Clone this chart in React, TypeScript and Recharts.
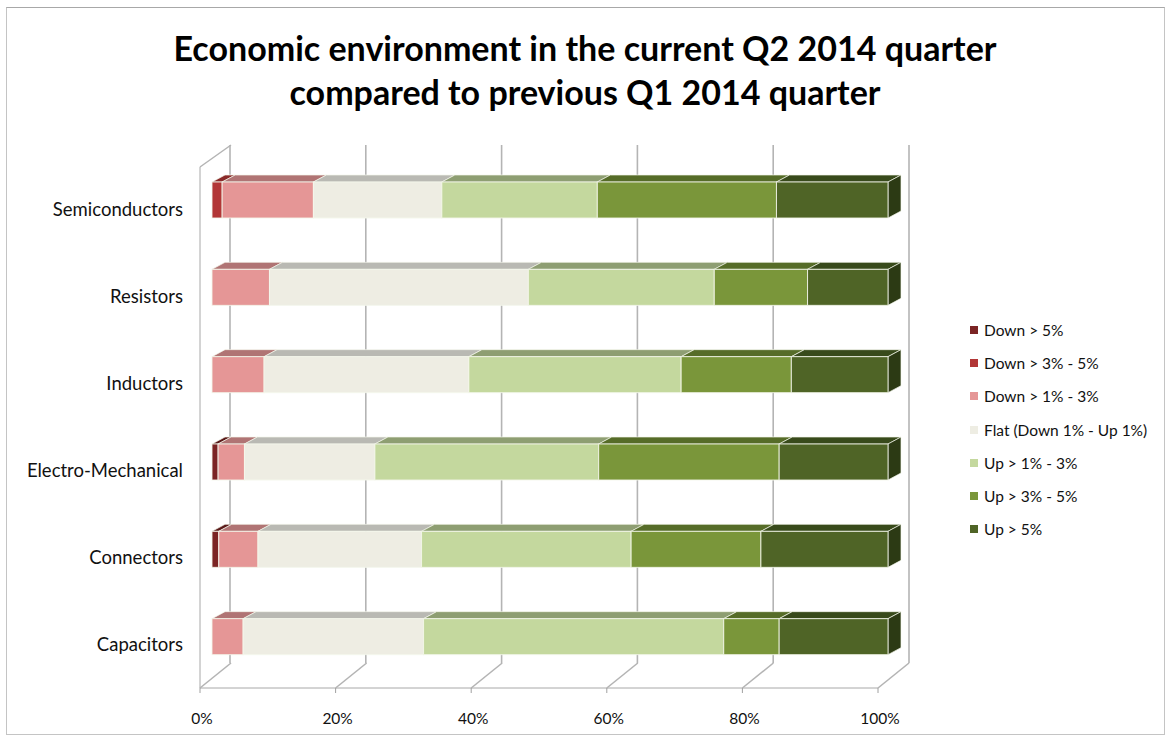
import React from "react";
import { BarChart, Bar, XAxis, YAxis, CartesianGrid, Legend } from "recharts";

const categories = [
  "Semiconductors",
  "Resistors",
  "Inductors",
  "Electro-Mechanical",
  "Connectors",
  "Capacitors",
];

// share of respondents per category (%)
const down5 = [0, 0, 0, 0.9, 1.0, 0];
const down3to5 = [1.5, 0, 0, 0, 0, 0];
const down1to3 = [13.5, 8.5, 7.7, 3.9, 5.8, 4.6];
const flat = [19.0, 38.3, 30.3, 19.3, 24.2, 26.7];
const up1to3 = [23.0, 27.5, 31.4, 33.1, 31.0, 44.4];
const up3to5 = [26.5, 13.8, 16.3, 26.7, 19.2, 8.2];
const up5 = [16.5, 11.9, 14.3, 16.1, 18.8, 16.1];

const xTicks = [0, 20, 40, 60, 80, 100];

const series = [
  { key: "down5", name: "Down > 5%", values: down5, color: "#7b2424", top: "#5a1a1a", side: "#4a1414" },
  { key: "down3to5", name: "Down > 3% - 5%", values: down3to5, color: "#b23636", top: "#8a2a2a", side: "#6e2020" },
  { key: "down1to3", name: "Down > 1% - 3%", values: down1to3, color: "#e59696", top: "#b07474", side: "#a06868" },
  { key: "flat", name: "Flat (Down 1% - Up 1%)", values: flat, color: "#eeede3", top: "#b9b9b3", side: "#a8a8a0" },
  { key: "up1to3", name: "Up > 1% - 3%", values: up1to3, color: "#c4d89e", top: "#8e9e72", side: "#7f8f63" },
  { key: "up3to5", name: "Up > 3% - 5%", values: up3to5, color: "#7a963a", top: "#566c28", side: "#3f5220" },
  { key: "up5", name: "Up > 5%", values: up5, color: "#4f6426", top: "#384a1b", side: "#2c3a14" },
];

const data = categories.map((name, i) => {
  const row: Record<string, string | number> = { name };
  series.forEach((s) => {
    row[s.key] = s.values[i];
  });
  return row;
});

const FONT = "Lato, 'Open Sans', sans-serif";
const DX = 13;
const DY = 7;

function Box3D(props: any) {
  const { x, y, width, height, fill, top, side, last } = props;
  if (!width || width <= 0.5) return null;
  const edge = "rgba(245,247,235,0.85)";
  return (
    <g>
      <polygon
        points={`${x},${y} ${x + DX},${y - DY} ${x + width + DX},${y - DY} ${x + width},${y}`}
        fill={top}
        stroke={edge}
        strokeWidth={0.8}
      />
      {last && (
        <polygon
          points={`${x + width},${y} ${x + width + DX},${y - DY} ${x + width + DX},${y + height - DY} ${x + width},${y + height}`}
          fill={side}
          stroke={edge}
          strokeWidth={0.8}
        />
      )}
      <rect x={x} y={y} width={width} height={height} fill={fill} stroke={edge} strokeWidth={1} />
    </g>
  );
}

// back wall: a vertical gridline per tick, drawn from the axis tick position
function BackTick(props: any) {
  const { x, y } = props;
  return <line x1={x} y1={y} x2={x} y2={145} stroke="#b4b4b4" strokeWidth={1.6} />;
}

function FloorTick(props: any) {
  const { x, y, payload } = props;
  return (
    <g>
      <line x1={x} y1={y} x2={x + 31} y2={y - 25} stroke="#b4b4b4" strokeWidth={1.6} />
      <line x1={x} y1={y} x2={x} y2={y + 5} stroke="#a0a0a0" />
      <text x={x + 2} y={y + 36} textAnchor="middle" fontFamily={FONT} fontSize={15.5} fill="#111">
        {payload.value}%
      </text>
    </g>
  );
}

function WallTick(props: any) {
  const { x, y, payload, index } = props;
  return (
    <g>
      {index === 0 && (
        <line x1={200} y1={167} x2={231} y2={145} stroke="#b4b4b4" strokeWidth={1.5} />
      )}
      <text x={x} y={y} dy={6} textAnchor="end" fontFamily={FONT} fontSize={18.5} fill="#111">
        {payload.value}
      </text>
    </g>
  );
}

function LegendList() {
  return (
    <div style={{ fontFamily: FONT, fontSize: 15.5, color: "#111" }}>
      {series.map((s) => (
        <div key={s.key} style={{ display: "flex", alignItems: "center", height: 33.3 }}>
          <span style={{ width: 8, height: 8, background: s.color, marginRight: 6, display: "inline-block" }} />
          {s.name}
        </div>
      ))}
    </div>
  );
}

// invisible stacked bars so the helper layers get a numeric domain and ticks
const ghostBars = series.map((s) => (
  <Bar key={s.key} dataKey={s.key} stackId="g" fill="none" isAnimationActive={false} shape={() => null} />
));

export default function App() {
  const layer: React.CSSProperties = { position: "absolute", left: 0, top: 0 };
  return (
    <div style={{ position: "relative", width: 1170, height: 740, background: "#fff", overflow: "hidden" }}>
      <style>{"body{margin:0}"}</style>
      <div
        style={{
          position: "absolute",
          left: 6,
          top: 7,
          width: 1157,
          height: 726,
          border: "1px solid #c4c4c4",
          borderTopColor: "#a8a8a8",
        }}
      />
      <div
        style={{
          position: "absolute",
          left: 0,
          top: 26,
          width: 1170,
          textAlign: "center",
          fontFamily: FONT,
          fontWeight: 700,
          fontSize: 34,
          lineHeight: "44px",
          color: "#000",
        }}
      >
        Economic environment in the current Q2 2014 quarter
        <br />
        compared to previous Q1 2014 quarter
      </div>

      {/* back wall gridlines */}
      <div style={layer}>
        <BarChart
          width={1170}
          height={740}
          data={data}
          layout="vertical"
          margin={{ top: 145, right: 261, bottom: 0, left: 230 }}
        >
          <XAxis
            type="number"
            domain={[0, 100]}
            ticks={xTicks}
            interval={0}
            height={77}
            tickSize={0}
            tickMargin={0}
            tickLine={false}
            axisLine={false}
            tick={<BackTick />}
          />
          <YAxis type="category" dataKey="name" width={0} tick={false} tickLine={false} axisLine={false} />
          {ghostBars}
        </BarChart>
      </div>

      {/* front axes */}
      <div style={layer}>
        <BarChart
          width={1170}
          height={740}
          data={data}
          layout="vertical"
          margin={{ top: 167, right: 292, bottom: 0, left: 0 }}
        >
          <XAxis
            type="number"
            domain={[0, 100]}
            ticks={xTicks}
            interval={0}
            height={52}
            tickSize={0}
            tickMargin={0}
            tickLine={false}
            axisLine={{ stroke: "#a8a8a8" }}
            tick={<FloorTick />}
          />
          <YAxis
            type="category"
            dataKey="name"
            width={200}
            tickSize={0}
            tickMargin={17}
            tickLine={false}
            axisLine={{ stroke: "#a8a8a8" }}
            tick={<WallTick />}
          />
          {ghostBars}
        </BarChart>
      </div>

      {/* 3D bars */}
      <div style={layer}>
        <BarChart
          width={1170}
          height={740}
          data={data}
          layout="vertical"
          barSize={36}
          margin={{ top: 156, right: 282, bottom: 60, left: 212 }}
        >
          <XAxis type="number" domain={[0, 100]} hide />
          <YAxis type="category" dataKey="name" hide />
          <Legend
            layout="vertical"
            align="center"
            verticalAlign="middle"
            content={<LegendList />}
            wrapperStyle={{ left: 970, top: 313, width: 200 }}
          />
          {series.map((s, i) => (
            <Bar
              key={s.key}
              dataKey={s.key}
              name={s.name}
              stackId="a"
              fill={s.color}
              isAnimationActive={false}
              shape={(p: any) => (
                <Box3D {...p} fill={s.color} top={s.top} side={s.side} last={i === series.length - 1} />
              )}
            />
          ))}
        </BarChart>
      </div>
    </div>
  );
}
